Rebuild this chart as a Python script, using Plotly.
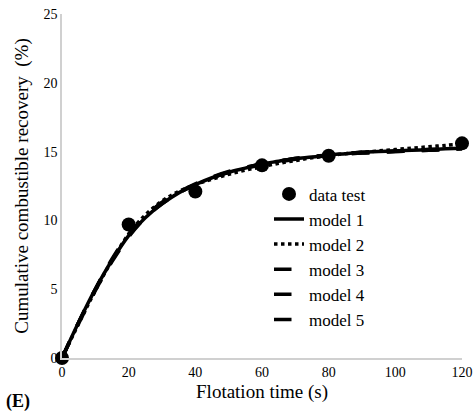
import plotly.graph_objects as go

# Measured flotation data
time_test = [0, 20, 40, 60, 80, 120]
recovery_test = [0.0, 9.7, 12.1, 14.0, 14.7, 15.6]

# Fitted kinetic model curves sampled every 5 s
time_model = [0, 5, 10, 15, 20, 25, 30, 35, 40, 45, 50, 55, 60,
              65, 70, 75, 80, 85, 90, 95, 100, 105, 110, 115, 120]
model_1 = [0.0, 2.6, 5.0, 7.1, 8.9, 10.2, 11.2, 12.0, 12.6, 13.1, 13.5, 13.8, 14.1,
           14.3, 14.5, 14.6, 14.75, 14.85, 14.95, 15.0, 15.05, 15.1, 15.15, 15.2, 15.25]
model_2 = [0.0, 2.5, 4.9, 7.1, 9.0, 10.4, 11.4, 12.1, 12.6, 13.0, 13.35, 13.65, 13.9,
           14.15, 14.35, 14.55, 14.7, 14.85, 14.95, 15.05, 15.15, 15.25, 15.35, 15.45, 15.55]
model_3 = [0.0, 2.6, 5.0, 7.2, 9.0, 10.3, 11.3, 12.0, 12.6, 13.1, 13.5, 13.8, 14.05,
           14.25, 14.45, 14.6, 14.7, 14.8, 14.9, 14.95, 15.0, 15.05, 15.1, 15.15, 15.2]
model_4 = [0.0, 2.5, 4.9, 7.0, 8.8, 10.2, 11.2, 12.0, 12.6, 13.1, 13.5, 13.85, 14.1,
           14.3, 14.5, 14.6, 14.75, 14.85, 14.9, 14.95, 15.0, 15.05, 15.1, 15.15, 15.2]
model_5 = [0.0, 2.6, 5.0, 7.1, 8.9, 10.3, 11.3, 12.05, 12.65, 13.15, 13.55, 13.85, 14.1,
           14.3, 14.5, 14.65, 14.75, 14.85, 14.95, 15.0, 15.05, 15.1, 15.15, 15.2, 15.25]

x_ticks = [0, 20, 40, 60, 80, 100, 120]
y_ticks = [0, 5, 10, 15, 20, 25]

serif = "Liberation Serif"

fig = go.Figure()

fig.add_trace(go.Scatter(
    x=time_test, y=recovery_test, mode="markers", name="data test",
    marker=dict(color="black", size=14), cliponaxis=False,
))
fig.add_trace(go.Scatter(
    x=time_model, y=model_1, mode="lines", name="model 1",
    line=dict(color="black", width=3.5, shape="spline"), cliponaxis=False,
))
fig.add_trace(go.Scatter(
    x=time_model, y=model_2, mode="lines", name="model 2",
    line=dict(color="black", width=3.5, dash="dot", shape="spline"), cliponaxis=False,
))
for name, vals in [("model 3", model_3), ("model 4", model_4), ("model 5", model_5)]:
    fig.add_trace(go.Scatter(
        x=time_model, y=vals, mode="lines", name=name,
        line=dict(color="black", width=3.5, dash="longdash", shape="spline"),
        cliponaxis=False,
    ))

fig.update_layout(
    width=476, height=416,
    margin=dict(l=62, r=14, t=14, b=58),
    paper_bgcolor="white", plot_bgcolor="white",
    font=dict(family=serif, size=14, color="black"),
    showlegend=True,
    legend=dict(
        x=0.5175, y=0.528, xanchor="left", yanchor="top",
        font=dict(family=serif, size=17),
        bgcolor="rgba(0,0,0,0)", itemwidth=30, tracegroupgap=0,
    ),
    xaxis=dict(
        range=[0, 120], tickvals=x_ticks, showgrid=False, zeroline=False,
        showline=True, linecolor="#d0d0d0", linewidth=1.5, ticks="",
        automargin=False,
        tickfont=dict(family=serif, size=14),
        title=dict(text="Flotation time (s)", standoff=6,
                   font=dict(family=serif, size=19)),
    ),
    yaxis=dict(
        range=[0, 25], tickvals=y_ticks, showgrid=False, zeroline=False,
        showline=True, linecolor="#d0d0d0", linewidth=1.5, ticks="",
        automargin=False,
        tickfont=dict(family=serif, size=14),
        title=dict(text="Cumulative combustible recovery  (%)", standoff=10,
                   font=dict(family=serif, size=19)),
    ),
    annotations=[dict(
        text="<b>(E)</b>", xref="paper", yref="paper", x=-0.145, y=-0.125,
        xanchor="left", yanchor="middle", showarrow=False,
        font=dict(family=serif, size=18),
    )],
)

fig.write_html("out.html")
